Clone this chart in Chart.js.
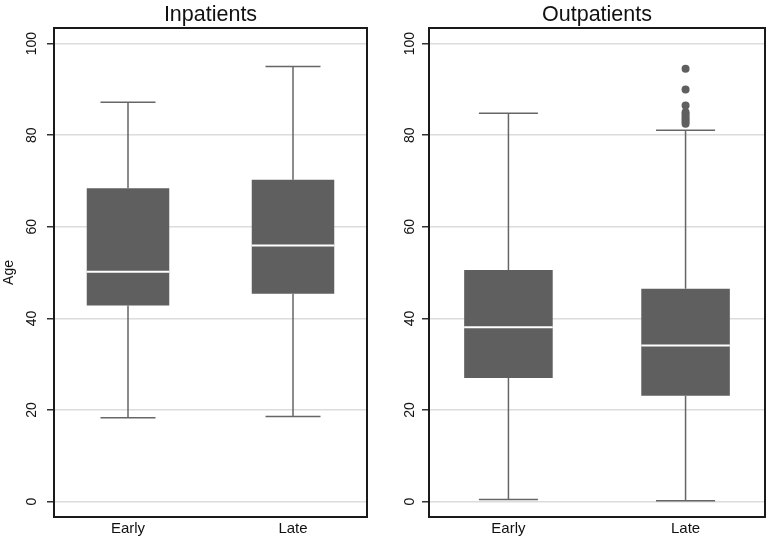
<!DOCTYPE html>
<html>
<head>
<meta charset="utf-8">
<title>Age by timing – Inpatients / Outpatients</title>
<script src="https://cdn.jsdelivr.net/npm/chart.js@4/dist/chart.umd.min.js"></script>
<style>
  html, body { margin: 0; padding: 0; background: #fff; }
  #wrap { position: relative; width: 769px; height: 541px; }
  #wrap canvas { position: absolute; top: 0; }
  #cIn { left: 0; }
  #cOut { left: 380px; }
</style>
</head>
<body>
<div id="wrap">
  <canvas id="cIn" width="380" height="541"></canvas>
  <canvas id="cOut" width="389" height="541"></canvas>
</div>
<script>
// ---- data (ages) ----
const groups = ['Early', 'Late'];
const yTicks = [0, 20, 40, 60, 80, 100];

const inMin = [18.3, 18.6];
const inQ1 = [42.8, 45.4];
const inMed = [50.2, 55.9];
const inQ3 = [68.4, 70.3];
const inMax = [87.2, 95.0];
const inOutliers = [[], []];

const outMin = [0.5, 0.2];
const outQ1 = [27.0, 23.1];
const outMed = [38.1, 34.1];
const outQ3 = [50.6, 46.5];
const outMax = [84.8, 81.1];
const outOutliers = [[], [94.5, 90.0, 86.5, 85.0, 84.5, 84.0, 83.5, 83.0, 82.5]];

const BOX = '#5f5f5f';
const FONT = "'Liberation Sans', Arial, Helvetica, sans-serif";

// frame around plot area + panel title centred over it
const panelDecor = {
  id: 'panelDecor',
  afterDraw(chart, args, opts) {
    const { ctx, chartArea: a } = chart;
    ctx.save();
    ctx.strokeStyle = '#1a1a1a';
    ctx.lineWidth = 2;
    ctx.strokeRect(a.left, a.top, a.right - a.left, a.bottom - a.top);
    ctx.fillStyle = '#111';
    ctx.font = '21.5px ' + FONT;
    ctx.textAlign = 'center';
    ctx.textBaseline = 'alphabetic';
    ctx.fillText(opts.text, (a.left + a.right) / 2, 21);
    ctx.restore();
  }
};

function boxDatasets(mins, q1s, meds, q3s, maxs, outliers) {
  const whisk = [], caps = [], medians = [], pts = [];
  groups.forEach((g, i) => {
    const x = i + 1;
    whisk.push({ x, y: mins[i] }, { x, y: q1s[i] }, { x, y: null },
               { x, y: q3s[i] }, { x, y: maxs[i] }, { x, y: null });
    caps.push({ x: x - 1 / 6, y: mins[i] }, { x: x + 1 / 6, y: mins[i] }, { x, y: null },
              { x: x - 1 / 6, y: maxs[i] }, { x: x + 1 / 6, y: maxs[i] }, { x, y: null });
    medians.push({ x: x - 0.25, y: meds[i] }, { x: x + 0.25, y: meds[i] }, { x, y: null });
    outliers[i].forEach(v => pts.push({ x, y: v }));
  });
  return [
    {
      type: 'bar',
      data: groups.map((g, i) => ({ x: i + 1, y: [q1s[i], q3s[i]] })),
      backgroundColor: BOX,
      borderWidth: 0,
      barPercentage: 0.5,
      categoryPercentage: 1,
      order: 2
    },
    { type: 'line', data: whisk, borderColor: '#666', borderWidth: 1.5, pointRadius: 0, spanGaps: false, order: 3 },
    { type: 'line', data: caps, borderColor: '#666', borderWidth: 1.5, pointRadius: 0, spanGaps: false, order: 3 },
    { type: 'line', data: medians, borderColor: '#fff', borderWidth: 2, pointRadius: 0, spanGaps: false, order: 0 },
    { type: 'scatter', data: pts, pointRadius: 4, backgroundColor: BOX, borderWidth: 0, order: 1 }
  ];
}

function makePanel(id, title, datasets, yWidth, padRight, tickPad, showTitle) {
  return new Chart(document.getElementById(id), {
    type: 'bar',
    data: { datasets },
    options: {
      responsive: false,
      animation: false,
      devicePixelRatio: 1,
      layout: { padding: { top: 28, right: padRight, bottom: 0, left: 0 } },
      plugins: {
        legend: { display: false },
        tooltip: { enabled: false },
        panelDecor: { text: title }
      },
      scales: {
        x: {
          type: 'linear',
          min: 1 - 74 / 165,
          max: 2 + 74 / 165,
          offset: false,
          grid: { display: false, drawTicks: false, offset: false },
          border: { display: false },
          afterBuildTicks: ax => { ax.ticks = groups.map((g, i) => ({ value: i + 1 })); },
          afterFit: ax => { ax.height = 24; },
          ticks: {
            padding: 3,
            color: '#111',
            font: { family: FONT, size: 15 },
            callback: v => groups[v - 1]
          }
        },
        y: {
          min: -3.34,
          max: 103.4,
          afterBuildTicks: ax => { ax.ticks = yTicks.map(v => ({ value: v })); },
          afterFit: ax => { ax.width = yWidth; },
          grid: { color: '#dcdcdc', lineWidth: 1.5, tickColor: '#333', tickLength: 7, drawTicks: true },
          border: { display: false },
          title: {
            display: showTitle,
            text: 'Age',
            color: '#111',
            font: { family: FONT, size: 14 },
            padding: { top: 1, bottom: 0 }
          },
          ticks: {
            minRotation: 90,
            maxRotation: 90,
            crossAlign: 'center',
            padding: tickPad,
            color: '#111',
            font: { family: FONT, size: 14 }
          }
        }
      }
    },
    plugins: [panelDecor]
  });
}

makePanel('cIn', 'Inpatients', boxDatasets(inMin, inQ1, inMed, inQ3, inMax, inOutliers), 54, 13, 3.5, true);
makePanel('cOut', 'Outpatients', boxDatasets(outMin, outQ1, outMed, outQ3, outMax, outOutliers), 49, 3, 0.5, false);
</script>
</body>
</html>
